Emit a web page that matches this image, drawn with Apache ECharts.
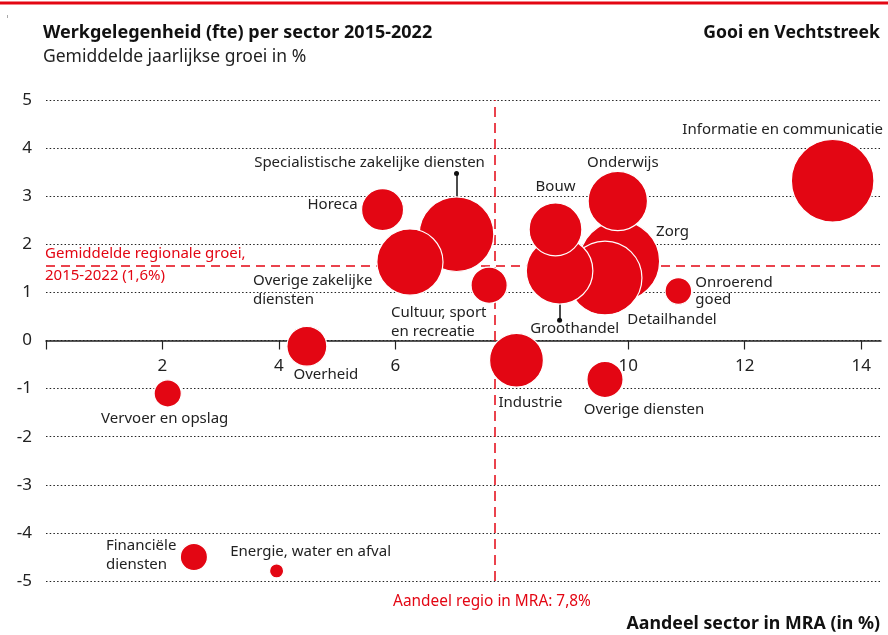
<!DOCTYPE html>
<html>
<head>
<meta charset="utf-8">
<script src="https://cdn.jsdelivr.net/npm/echarts@6/dist/echarts.min.js"></script>
<style>
html, body { margin: 0; padding: 0; background: #fff; }
#chart { width: 888px; height: 635px; }
</style>
</head>
<body>
<div id="chart"></div>
<script>
// sectoren, van groot naar klein zodat kleine bollen bovenop liggen
const sectoren = [
    'Informatie en communicatie', 'Zorg', 'Specialistische zakelijke diensten', 'Detailhandel',
    'Groothandel', 'Overige zakelijke diensten', 'Onderwijs', 'Industrie', 'Bouw', 'Horeca',
    'Overheid', 'Cultuur, sport en recreatie', 'Overige diensten', 'Vervoer en opslag',
    'Financiële diensten', 'Onroerend goed', 'Energie, water en afval'
];
// aandeel sector in MRA (%)
const aandeel = [13.51, 9.85, 7.05, 9.60, 8.82, 6.25, 9.82, 8.08, 8.75, 5.78, 4.48, 7.61, 9.60, 2.09, 2.54, 10.86, 3.96];
// gemiddelde jaarlijkse groei 2015-2022 (%)
const groei = [3.32, 1.65, 2.21, 1.30, 1.45, 1.63, 2.90, -0.41, 2.31, 2.72, -0.12, 1.15, -0.81, -1.10, -4.50, 1.03, -4.79];
// werkgelegenheid (fte), geschat uit de bolgrootte
const fte = [12000, 11300, 9800, 9600, 7800, 7700, 6200, 5100, 4900, 3100, 2800, 2300, 2300, 1300, 1300, 1250, 350];
const xTicks = [0, 2, 4, 6, 8, 10, 12, 14];
const xLabels = [2, 4, 6, 8, 10, 12, 14];
const regioAandeel = 7.71;
const regioGroei = 1.55;

const red = '#e30613';
const ink = '#222';
const font = 'Noto Sans';

// plaats van de labels t.o.v. het midden van de bol
const labelLayout = {
    'Informatie en communicatie': { offset: [-50, -51] },
    'Zorg': { offset: [53, -29] },
    'Specialistische zakelijke diensten': { offset: [-87, -71] },
    'Detailhandel': { offset: [67, 42] },
    'Groothandel': { offset: [15, 58] },
    'Overige zakelijke diensten': { text: 'Overige zakelijke\ndiensten', offset: [-157, 28], align: 'left' },
    'Onderwijs': { offset: [5, -38] },
    'Industrie': { offset: [14, 43] },
    'Bouw': { offset: [0, -43] },
    'Horeca': { offset: [-50, -5] },
    'Overheid': { offset: [19, 28] },
    'Cultuur, sport en recreatie': { text: 'Cultuur, sport\nen recreatie', offset: [-98, 37], align: 'left' },
    'Overige diensten': { offset: [39, 30] },
    'Vervoer en opslag': { offset: [-3, 25] },
    'Financiële diensten': { text: 'Financiële\ndiensten', offset: [-88, -2], align: 'left' },
    'Onroerend goed': { text: 'Onroerend\ngoed', offset: [17, 0], align: 'left', lineHeight: 17 },
    'Energie, water en afval': { offset: [34, -19] }
};

// streepjes naar het label (eindpunt y)
const leaders = [
    { name: 'Specialistische zakelijke diensten', dotY: 3.47 },
    { name: 'Groothandel', dotY: 0.42 }
];

const bubbleData = sectoren.map((naam, i) => {
    const lay = labelLayout[naam];
    return {
        name: naam,
        value: [aandeel[i], groei[i], fte[i]],
        label: {
            formatter: lay.text || naam,
            offset: lay.offset,
            align: lay.align || 'center',
            lineHeight: lay.lineHeight || 19
        }
    };
});

const leaderData = leaders.map(l => {
    const i = sectoren.indexOf(l.name);
    return [
        { coord: [aandeel[i], groei[i]], symbol: 'none' },
        { coord: [aandeel[i], l.dotY], symbol: 'circle', symbolSize: 5 }
    ];
});

const chart = echarts.init(document.getElementById('chart'));
chart.setOption({
    animation: false,
    textStyle: { fontFamily: font },
    grid: { left: 46, right: 7, top: 100, bottom: 54 },
    xAxis: {
        type: 'value',
        min: 0,
        max: 14.34,
        // as op de nullijn van de y-as
        offset: -240.5,
        axisLine: { onZero: false, lineStyle: { color: ink, width: 1.5 } },
        axisTick: { show: true, customValues: xTicks, length: 9, lineStyle: { color: ink, width: 1.2 } },
        axisLabel: { customValues: xLabels, margin: 17, fontSize: 17, color: ink, fontFamily: font },
        splitLine: { show: false }
    },
    yAxis: {
        type: 'value',
        min: -5,
        max: 5,
        interval: 1,
        axisLine: { show: false },
        axisTick: { show: false },
        axisLabel: { margin: 14, fontSize: 17, color: ink, fontFamily: font },
        splitLine: { lineStyle: { color: ink, width: 1, type: [1.5, 2.2] } }
    },
    series: [
        {
            type: 'scatter',
            z: 1,
            data: [],
            silent: true,
            markLine: {
                z: 1,
                silent: true,
                symbol: 'none',
                label: { show: false },
                lineStyle: { color: red, width: 1.5, type: [10, 6] },
                data: [{ xAxis: regioAandeel }, { yAxis: regioGroei, lineStyle: { type: [9, 6] } }]
            }
        },
        {
            type: 'scatter',
            z: 2,
            data: [],
            silent: true,
            markLine: {
                z: 1,
                silent: true,
                label: { show: false },
                lineStyle: { color: '#111', width: 1.5, type: 'solid' },
                data: leaderData
            }
        },
        {
            type: 'scatter',
            z: 3,
            data: bubbleData,
            symbolSize: v => Math.sqrt(v[2]) * 0.754,
            itemStyle: { color: red, opacity: 1, borderColor: '#fff', borderWidth: 1.2 },
            emphasis: { disabled: true },
            label: {
                show: true,
                position: 'inside',
                color: ink,
                fontSize: 15,
                fontFamily: font
            }
        }
    ],
    graphic: [
        { type: 'rect', shape: { x: 0, y: 1.5, width: 888, height: 3 }, style: { fill: red } },
        { type: 'rect', shape: { x: 7, y: 15, width: 1, height: 3 }, style: { fill: '#aaa' } },
        { type: 'text', x: 43, y: 33, style: { text: 'Werkgelegenheid (fte) per sector 2015-2022', font: 'bold 18px "Noto Sans"', fill: '#111', textVerticalAlign: 'middle' } },
        { type: 'text', x: 43, y: 57, style: { text: 'Gemiddelde jaarlijkse groei in %', font: '17.5px "Noto Sans"', fill: ink, textVerticalAlign: 'middle' } },
        { type: 'text', x: 880, y: 33, style: { text: 'Gooi en Vechtstreek', font: 'bold 17.6px "Noto Sans"', fill: '#111', textAlign: 'right', textVerticalAlign: 'middle' } },
        { type: 'text', x: 45, y: 254, style: { text: 'Gemiddelde regionale groei,', font: '15px "Noto Sans"', fill: red, textVerticalAlign: 'middle' } },
        { type: 'text', x: 45, y: 276, style: { text: '2015-2022 (1,6%)', font: '15px "Noto Sans"', fill: red, textVerticalAlign: 'middle' } },
        { type: 'text', x: 492, y: 602, style: { text: 'Aandeel regio in MRA: 7,8%', font: '15.4px "Noto Sans"', fill: red, textAlign: 'center', textVerticalAlign: 'middle' } },
        { type: 'text', x: 880, y: 624, style: { text: 'Aandeel sector in MRA (in %)', font: 'bold 17.8px "Noto Sans"', fill: '#111', textAlign: 'right', textVerticalAlign: 'middle' } }
    ]
});
</script>
</body>
</html>
